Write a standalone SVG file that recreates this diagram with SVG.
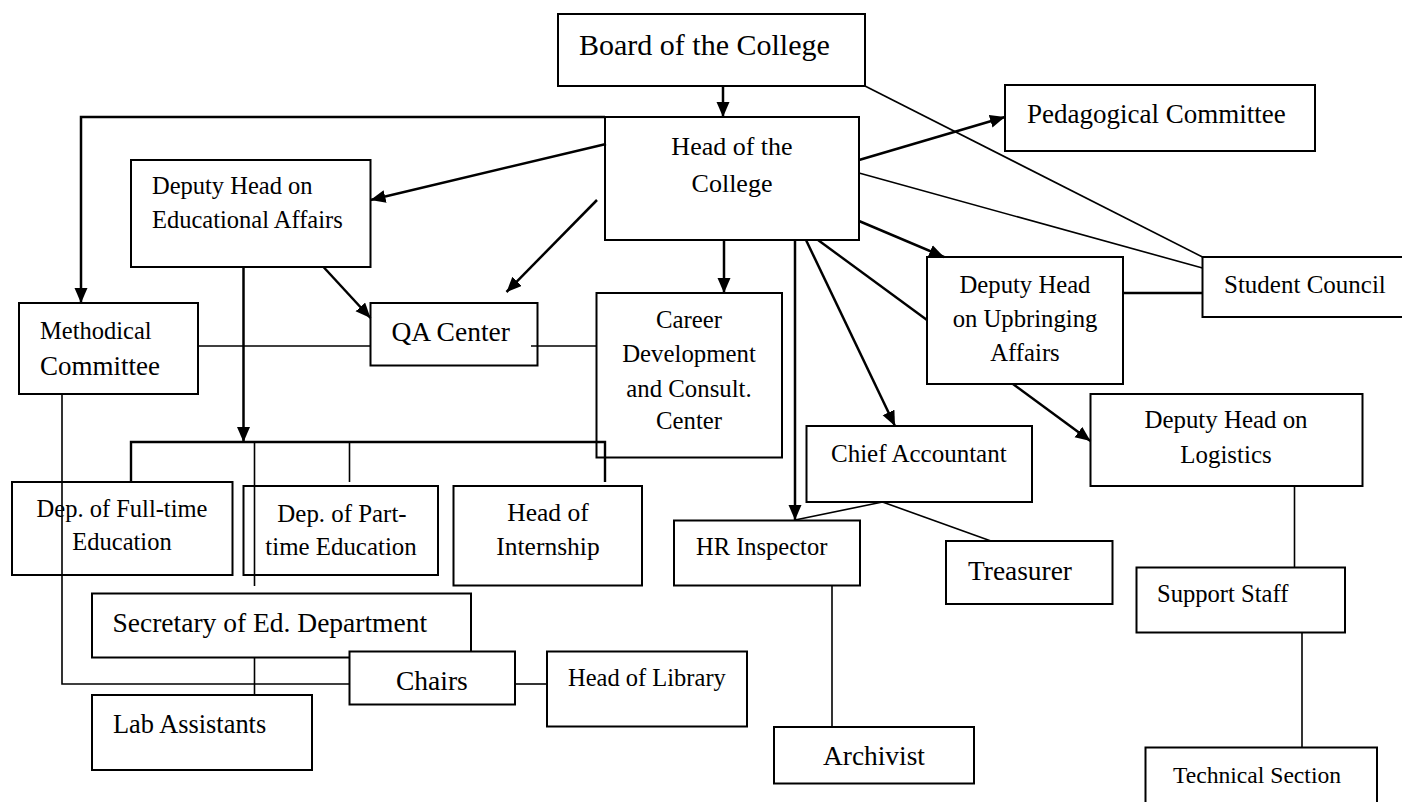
<svg xmlns="http://www.w3.org/2000/svg" width="1402" height="802" viewBox="0 0 1402 802">
<style>
.box{fill:#fff;stroke:#000;stroke-width:2}
text{font-family:"Liberation Serif","Times New Roman",serif;fill:#000}
.c{text-anchor:middle}
.arr{fill:none;stroke:#000;stroke-width:2.5;marker-end:url(#ah)}
.ln{fill:none;stroke:#000;stroke-width:1.6}
.lnb{fill:none;stroke:#000;stroke-width:2.4}
</style>
<defs>
<marker id="ah" markerUnits="userSpaceOnUse" markerWidth="16" markerHeight="14" refX="15" refY="6.5" orient="auto">
<path d="M0,0 L15,6.5 L0,13 z" fill="#000"/>
</marker>
</defs>
<rect width="1402" height="802" fill="#fff"/>

<g id="board"><rect class="box" x="558" y="14" width="307" height="72"/><text x="579" y="55" font-size="30">Board of the College</text></g>
<g id="head"><rect class="box" x="605" y="117" width="254" height="123"/><text class="c" x="732" y="155" font-size="26">Head of the</text><text class="c" x="732" y="192" font-size="26">College</text></g>
<g id="pedagogical"><rect class="box" x="1005" y="85" width="310" height="66"/><text x="1027" y="123" font-size="27">Pedagogical Committee</text></g>
<g id="deputy-ed"><rect class="box" x="131" y="160" width="239.5" height="107"/><text x="152" y="194" font-size="24.5">Deputy Head on</text><text x="152" y="228" font-size="24.5">Educational Affairs</text></g>
<g id="methodical"><rect class="box" x="19" y="303" width="179" height="91"/><text x="40" y="339" font-size="24.5">Methodical</text><text x="40" y="375" font-size="27">Committee</text></g>
<g id="qa"><rect class="box" x="370.5" y="303" width="167" height="62.5"/><text x="391.5" y="341" font-size="27.5">QA Center</text></g>
<g id="career"><rect class="box" x="596.5" y="293" width="185.5" height="164.5"/><text class="c" x="689" y="328" font-size="24.8">Career</text><text class="c" x="689" y="362" font-size="24.8">Development</text><text class="c" x="689" y="397" font-size="24.8">and Consult.</text><text class="c" x="689" y="429" font-size="24.8">Center</text></g>
<g id="deputy-up"><rect class="box" x="927" y="257" width="196" height="127"/><text class="c" x="1025" y="293" font-size="24.7">Deputy Head</text><text class="c" x="1025" y="327" font-size="24.7">on Upbringing</text><text class="c" x="1025" y="361" font-size="24.7">Affairs</text></g>
<g id="student"><rect class="box" x="1202.5" y="257" width="205" height="60"/><text x="1224" y="293" font-size="25">Student Council</text></g>
<g id="chief"><rect class="box" x="806.5" y="426" width="225.5" height="76"/><text x="831" y="462" font-size="25">Chief Accountant</text></g>
<g id="logistics"><rect class="box" x="1090.5" y="394" width="272" height="92"/><text class="c" x="1226" y="428" font-size="24.9">Deputy Head on</text><text class="c" x="1226" y="463" font-size="24.9">Logistics</text></g>
<g id="fulltime"><rect class="box" x="12" y="482" width="220.5" height="93"/><text class="c" x="122" y="517" font-size="24.5">Dep. of Full-time</text><text class="c" x="122" y="550" font-size="24.5">Education</text></g>
<g id="parttime"><rect class="box" x="243.5" y="486" width="194.5" height="89"/><text class="c" x="342" y="522" font-size="24.9">Dep. of Part-</text><text class="c" x="341" y="555" font-size="24.9">time Education</text></g>
<g id="internship"><rect class="box" x="453.5" y="486" width="188.5" height="99.5"/><text class="c" x="548" y="521" font-size="25.5">Head of</text><text class="c" x="548" y="555" font-size="25.5">Internship</text></g>
<g id="hr"><rect class="box" x="674" y="520.5" width="186" height="65"/><text x="696" y="555" font-size="24.5">HR Inspector</text></g>
<g id="treasurer"><rect class="box" x="946" y="541" width="166.5" height="63"/><text x="968" y="580" font-size="27.4">Treasurer</text></g>
<g id="support"><rect class="box" x="1136.5" y="567.5" width="208.5" height="65"/><text x="1157" y="602" font-size="24.6">Support Staff</text></g>
<g id="technical"><rect class="box" x="1145.5" y="747.5" width="231.5" height="70"/><text x="1173" y="783" font-size="23.6">Technical Section</text></g>
<g id="secretary"><rect class="box" x="92" y="593.5" width="379" height="64"/><text x="112.5" y="632" font-size="27.5">Secretary of Ed. Department</text></g>
<g id="chairs"><rect class="box" x="349.5" y="651.5" width="165.5" height="53"/><text x="396" y="690" font-size="27.5">Chairs</text></g>
<g id="library"><rect class="box" x="547" y="651.5" width="200" height="75"/><text x="568" y="686" font-size="24.5">Head of Library</text></g>
<g id="lab"><rect class="box" x="92" y="695" width="220" height="75"/><text x="113" y="733" font-size="26.4">Lab Assistants</text></g>
<g id="archivist"><rect class="box" x="774" y="727" width="200" height="56.5"/><text x="823" y="765" font-size="27.4">Archivist</text></g>

<g id="connectors">
<path class="arr" d="M723,86 V117"/>
<path class="arr" d="M605,117 H81 V303"/>
<path class="arr" d="M606,144 L370.5,200"/>
<path class="arr" d="M597,200 L506.5,292"/>
<path class="arr" d="M724,240 V293"/>
<path class="arr" d="M859,160 L1005,117"/>
<path class="arr" d="M859,221 L944,257"/>
<path class="arr" d="M806,240 L895,426"/>
<path class="arr" d="M795,240 V520"/>
<path class="arr" d="M323.5,267 L370.5,318"/>
<path class="arr" d="M243.5,267 V442"/>
<path class="arr" d="M1013,384 L1090.5,441"/>
<path class="ln" d="M865,86 L1202.5,257"/>
<path class="ln" d="M859,173 L1202.5,268"/>
<path class="lnb" d="M818,240 L927,320"/>
<path class="lnb" d="M1123,293 H1202.5"/>
<path class="ln" d="M198,346 H370.5"/>
<path class="ln" d="M531,346 H596.5"/>
<path class="lnb" d="M131,482 V442 H605 V482"/>
<path class="ln" d="M349.5,442 V482"/>
<path class="ln" d="M254.5,442 V586"/>
<path class="ln" d="M62,394 V684 H349.5"/>
<path class="ln" d="M515,684 H547"/>
<path class="ln" d="M254.5,657.5 V695"/>
<path class="ln" d="M882.5,502 L795,520"/>
<path class="ln" d="M882.5,502 L991,541"/>
<path class="ln" d="M832,585.5 V727"/>
<path class="ln" d="M1294.5,486 V567.5"/>
<path class="ln" d="M1302,632.5 V747.5"/>
</g>
</svg>
